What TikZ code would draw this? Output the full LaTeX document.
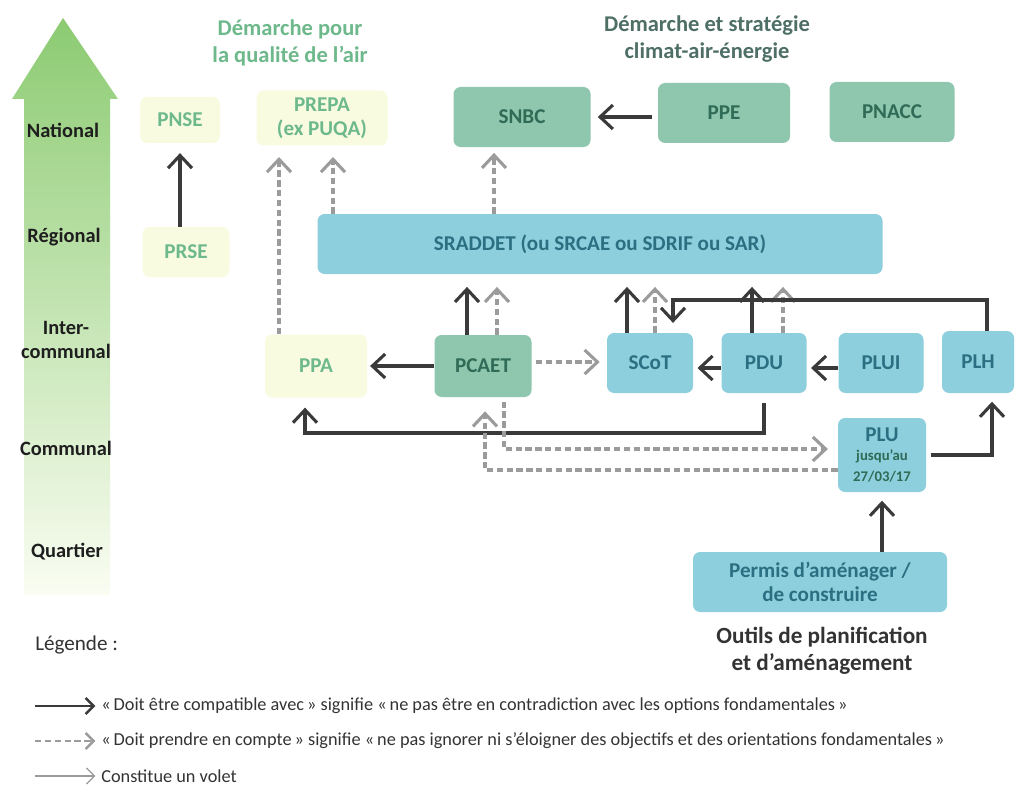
\documentclass[tikz,border=0pt]{standalone}
\usepackage{fontspec}
\setmainfont{Carlito}
\usepackage{tikz}
\usetikzlibrary{arrows.meta}
\definecolor{arrowtop}{HTML}{8CCB72}
\definecolor{arrowmid}{HTML}{BDE3A3}
\definecolor{arrowbot}{HTML}{FAFDF2}
\definecolor{qualfill}{HTML}{F8FBE0}
\definecolor{qualtext}{HTML}{6DB98B}
\definecolor{climfill}{HTML}{8EC7AE}
\definecolor{climtext}{HTML}{2F6B57}
\definecolor{planfill}{HTML}{8DCFDC}
\definecolor{plantext}{HTML}{2B6F82}
\definecolor{climtitle}{HTML}{4E6F66}
\definecolor{darkline}{HTML}{3A3A3A}
\definecolor{dashgray}{HTML}{9B9B9B}
\definecolor{lvltext}{HTML}{1E1E1E}
\definecolor{legtext}{HTML}{333333}
\tikzset{>={Straight Barb[length=3.2mm,width=6mm]}}
\tikzset{sz/.style 2 args={minimum width=#1*0.025cm, minimum height=#2*0.025cm}}
\newcommand{\plusmall}{\fontsize{10.5}{11}\selectfont\color{climtext}}

\begin{document}
\begin{tikzpicture}[x=0.025cm,y=-0.025cm,
              box/.style={rounded corners=5pt, inner sep=1pt, align=center, font=\bfseries\fontsize{15}{17}\selectfont},
              qualbox/.style={box, fill=qualfill, text=qualtext},
              climbox/.style={box, fill=climfill, text=climtext},
              planbox/.style={box, fill=planfill, text=plantext},
              lvl/.style={font=\bfseries\fontsize{14.5}{17}\selectfont, text=lvltext, align=center},
              title/.style={font=\bfseries\fontsize{16}{19}\selectfont, align=center},
              legtxt/.style={font=\fontsize{13}{15}\selectfont, text=legtext, anchor=west, inner sep=0pt},
              solidarr/.style={->, line width=2.2pt, draw=darkline, shorten >=4pt},
              dasharr/.style={->, line width=2.2pt, draw=dashgray, dash pattern=on 4.5pt off 2.5pt, shorten >=4pt},
              thinarr/.style={->, line width=0.9pt, draw=dashgray},
              legtip/.style={-{Straight Barb[length=2mm,width=4mm]}},
             ]

\path[use as bounding box, fill=white] (0,0) rectangle (1016,788);

\shade[top color=arrowtop, middle color=arrowmid, bottom color=arrowbot] (24,595) -- (24,99) -- (12,99) -- (63,18) -- (118,99) -- (110,99) -- (110,595) -- cycle;

\node[lvl] (natl) at (63,130) {National};
\node[lvl] (regl) at (64,237) {Régional};
\node[lvl] (interco) at (66,340) {Inter-\\communal};
\node[lvl] (comm) at (66,448) {Communal};
\node[lvl] (quart) at (67,552) {Quartier};

\node[title, text=qualtext] (qualtitle) at (290,43) {Démarche pour\\la qualité de l'air};
\node[title, text=climtitle] (climtitle) at (707,39) {Démarche et stratégie\\climat-air-énergie};

\node[qualbox, sz={80}{46}] (PNSE) at (180,120) {PNSE};
\node[qualbox, sz={131}{55}] (PREPA) at (322,118) {PREPA\\(ex PUQA)};
\node[qualbox, sz={87}{50}] (PRSE) at (186,252) {PRSE};
\node[qualbox, sz={102}{63}] (PPA) at (316,366) {PPA};

\node[climbox, sz={137}{60}] (SNBC) at (522,117) {SNBC};
\node[climbox, sz={132}{60}] (PPE) at (724,113) {PPE};
\node[climbox, sz={125}{60}] (PNACC) at (892,112) {PNACC};
\node[climbox, sz={97}{62}] (PCAET) at (483,366) {PCAET};

\node[planbox, sz={565}{60}] (SRADDET) at (600,244) {SRADDET (ou SRCAE ou SDRIF ou SAR)};
\node[planbox, sz={86}{60}] (SCoT) at (650,363) {SCoT};
\node[planbox, sz={85}{60}] (PDU) at (764,363) {PDU};
\node[planbox, sz={85}{60}] (PLUI) at (881,363) {PLUI};
\node[planbox, sz={72}{62}] (PLH) at (978,362) {PLH};
\node[planbox, sz={88}{74}] (PLU) at (882,455) {PLU\\[-3pt]\plusmall jusqu'au\\[-2pt]\plusmall 27/03/17};
\node[planbox, sz={254}{60}] (PERMIS) at (820,582) {Permis d'aménager /\\de construire};

\node[title, font=\bfseries\fontsize{16.5}{19}\selectfont, text=legtext] (outils) at (822,651) {Outils de planification\\et d'aménagement};

\coordinate (plhbend) at (673,300);
\coordinate (ppabend) at (305,433);

\draw[solidarr, shorten >=7pt] (PRSE.north -| PNSE.south) -- (PNSE.south);
\draw[dasharr, shorten >=8pt] (PPA.north -| 279,0) -- (PREPA.south -| 279,0);
\draw[dasharr, shorten >=8pt] (SRADDET.north -| 333,0) -- (PREPA.south -| 333,0);
\draw[dasharr, shorten >=4pt] (SRADDET.north -| 494,0) -- (SNBC.south -| 494,0);
\draw[solidarr, shorten <=4pt, shorten >=5pt] (PPE.west |- 0,117) -- (SNBC.east |- 0,117);

\draw[solidarr, shorten >=9pt] (PCAET.north -| 467,0) -- (SRADDET.south -| 467,0);
\draw[dasharr, shorten >=9pt] (PCAET.north -| 497,0) -- (SRADDET.south -| 497,0);
\draw[solidarr, shorten >=9pt] (SCoT.north -| 627,0) -- (SRADDET.south -| 627,0);
\draw[dasharr, shorten >=9pt] (SCoT.north -| 655,0) -- (SRADDET.south -| 655,0);
\draw[solidarr, shorten >=9pt] (PDU.north -| 752,0) -- (SRADDET.south -| 752,0);
\draw[dasharr, shorten >=9pt] (PDU.north -| 783,0) -- (SRADDET.south -| 783,0);

\draw[solidarr, shorten >=7pt] (PLH.north -| 987,0) |- (plhbend) -- (SCoT.north -| plhbend);

\draw[solidarr, shorten >=2pt] (PCAET.west) -- (PPA.east);
\draw[dasharr, shorten <=3pt, shorten >=5pt] (PCAET.east |- 0,362) -- (SCoT.west |- 0,362);
\draw[solidarr, shorten >=3pt] (PDU.west |- 0,368) -- (SCoT.east |- 0,368);
\draw[solidarr, shorten >=3pt] (PLUI.west |- 0,368) -- (PDU.east |- 0,368);
\draw[solidarr, shorten <=7pt, shorten >=7pt] (PDU.south) |- (ppabend) -- (PPA.south -| ppabend);

\draw[dasharr, shorten <=3pt, shorten >=7pt] (PCAET.south -| 504,0) |- (PLU.west |- 0,449);
\draw[dasharr, shorten >=10pt] (PLU.west |- 0,470) -| (PCAET.south -| 485,0);
\draw[solidarr, shorten <=3pt, shorten >=6pt] (PLU.east |- 0,455) -| (PLH.south -| 992,0);
\draw[solidarr, shorten >=6pt] (PERMIS.north -| PLU.south) -- (PLU.south);

\node[font=\fontsize{15}{17}\selectfont, text=legtext, anchor=west, inner sep=0pt] (legende) at (35,645) {Légende :};
\node[legtxt] (legsolid) at (101,706) {«\,Doit être compatible avec\,» signifie «\,ne pas être en contradiction avec les options fondamentales\,»};
\node[legtxt] (legdash) at (101,741) {«\,Doit prendre en compte\,» signifie «\,ne pas ignorer ni s'éloigner des objectifs et des orientations fondamentales\,»};
\node[legtxt] (legthin) at (101,776) {Constitue un volet};
\coordinate (lsolid) at (35,706);
\coordinate (ldash) at (35,741);
\coordinate (lthin) at (35,776);
\draw[solidarr, legtip, line width=1.8pt, shorten >=4pt] (lsolid) -- (legsolid.west);
\draw[dasharr, legtip, line width=1.8pt, shorten >=4pt] (ldash) -- (legdash.west);
\draw[thinarr, legtip, shorten >=4pt] (lthin) -- (legthin.west);
\end{tikzpicture}
\end{document}
